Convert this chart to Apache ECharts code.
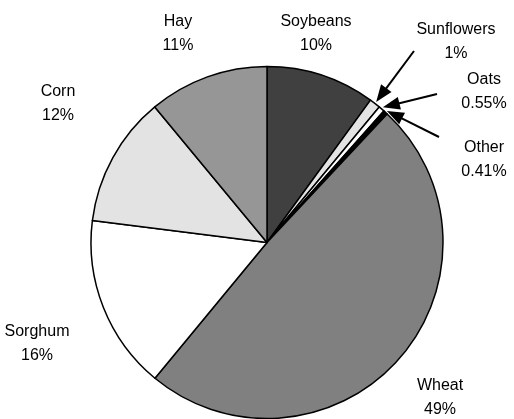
<!DOCTYPE html>
<html>
<head>
<meta charset="utf-8">
<style>
  html, body { margin: 0; padding: 0; background: #ffffff; }
  #chart { width: 514px; height: 419px; }
</style>
<script src="https://cdn.jsdelivr.net/npm/echarts@6/dist/echarts.min.js"></script>
</head>
<body>
<div id="chart"></div>
<script>
// ---- data (clockwise from 12 o'clock) ----
const categories = ['Soybeans', 'Sunflowers', 'Oats', 'Other', 'Wheat', 'Sorghum', 'Corn', 'Hay'];
const shares = [10, 1, 0.55, 0.41, 49, 16, 12, 11];
const percentLabels = ['10%', '1%', '0.55%', '0.41%', '49%', '16%', '12%', '11%'];
const arrowedCategories = ['Sunflowers', 'Oats', 'Other'];

// ---- styling / layout ----
const sliceColors = {
  Soybeans: '#404040', Sunflowers: '#e3e3e3', Oats: '#ffffff', Other: '#000000',
  Wheat: '#808080', Sorghum: '#ffffff', Corn: '#e3e3e3', Hay: '#969696'
};
const CENTER = [267, 242.5];
const RADIUS = 176;
const labelCenters = {
  Soybeans: [316, 34], Sunflowers: [456, 42], Oats: [484, 92], Other: [484, 160],
  Wheat: [440, 398], Sorghum: [37, 344], Corn: [58, 104], Hay: [178, 34]
};
const arrowTails = { Sunflowers: [414, 51], Oats: [437, 94], Other: [439, 137] };

const chart = echarts.init(document.getElementById('chart'), null, { renderer: 'canvas' });

const pieData = categories.map((name, i) => ({
  name: name,
  value: shares[i],
  itemStyle: { color: sliceColors[name] }
}));

// arrows computed from the pie geometry (mid-angle of each slice)
const total = shares.reduce((a, b) => a + b, 0);
const graphics = [];
let cum = 0;
categories.forEach((name, i) => {
  const mid = (cum + shares[i] / 2) / total * 2 * Math.PI;
  cum += shares[i];
  if (arrowedCategories.indexOf(name) < 0) return;
  const tipR = RADIUS + 2;
  const tip = [CENTER[0] + tipR * Math.sin(mid), CENTER[1] - tipR * Math.cos(mid)];
  const tail = arrowTails[name];
  const dx = tip[0] - tail[0], dy = tip[1] - tail[1];
  const len = Math.sqrt(dx * dx + dy * dy);
  const ux = dx / len, uy = dy / len;
  const headLen = 17, headHalf = 6.5;
  const base = [tip[0] - ux * headLen, tip[1] - uy * headLen];
  graphics.push({
    type: 'line',
    shape: { x1: tail[0], y1: tail[1], x2: base[0] + ux * 2, y2: base[1] + uy * 2 },
    style: { stroke: '#000', lineWidth: 2 },
    z: 100
  });
  graphics.push({
    type: 'polygon',
    shape: { points: [tip, [base[0] - uy * headHalf, base[1] + ux * headHalf], [base[0] + uy * headHalf, base[1] - ux * headHalf]] },
    style: { fill: '#000' },
    z: 100
  });
});

chart.setOption({
  animation: false,
  backgroundColor: '#ffffff',
  graphic: graphics,
  series: [{
    type: 'pie',
    center: CENTER,
    radius: RADIUS,
    startAngle: 90,
    clockwise: true,
    avoidLabelOverlap: false,
    minAngle: 0,
    data: pieData,
    itemStyle: { borderColor: '#000', borderWidth: 1.5 },
    emphasis: { disabled: true },
    label: {
      show: true,
      formatter: p => p.name + '\n' + percentLabels[p.dataIndex],
      fontFamily: '"Liberation Sans", Arial, sans-serif',
      fontSize: 16,
      lineHeight: 24,
      color: '#000',
      align: 'center'
    },
    labelLine: { show: false },
    labelLayout: function (params) {
      const c = labelCenters[categories[params.dataIndex]];
      return { x: c[0], y: c[1], align: 'center', verticalAlign: 'middle' };
    }
  }]
});
</script>
</body>
</html>
